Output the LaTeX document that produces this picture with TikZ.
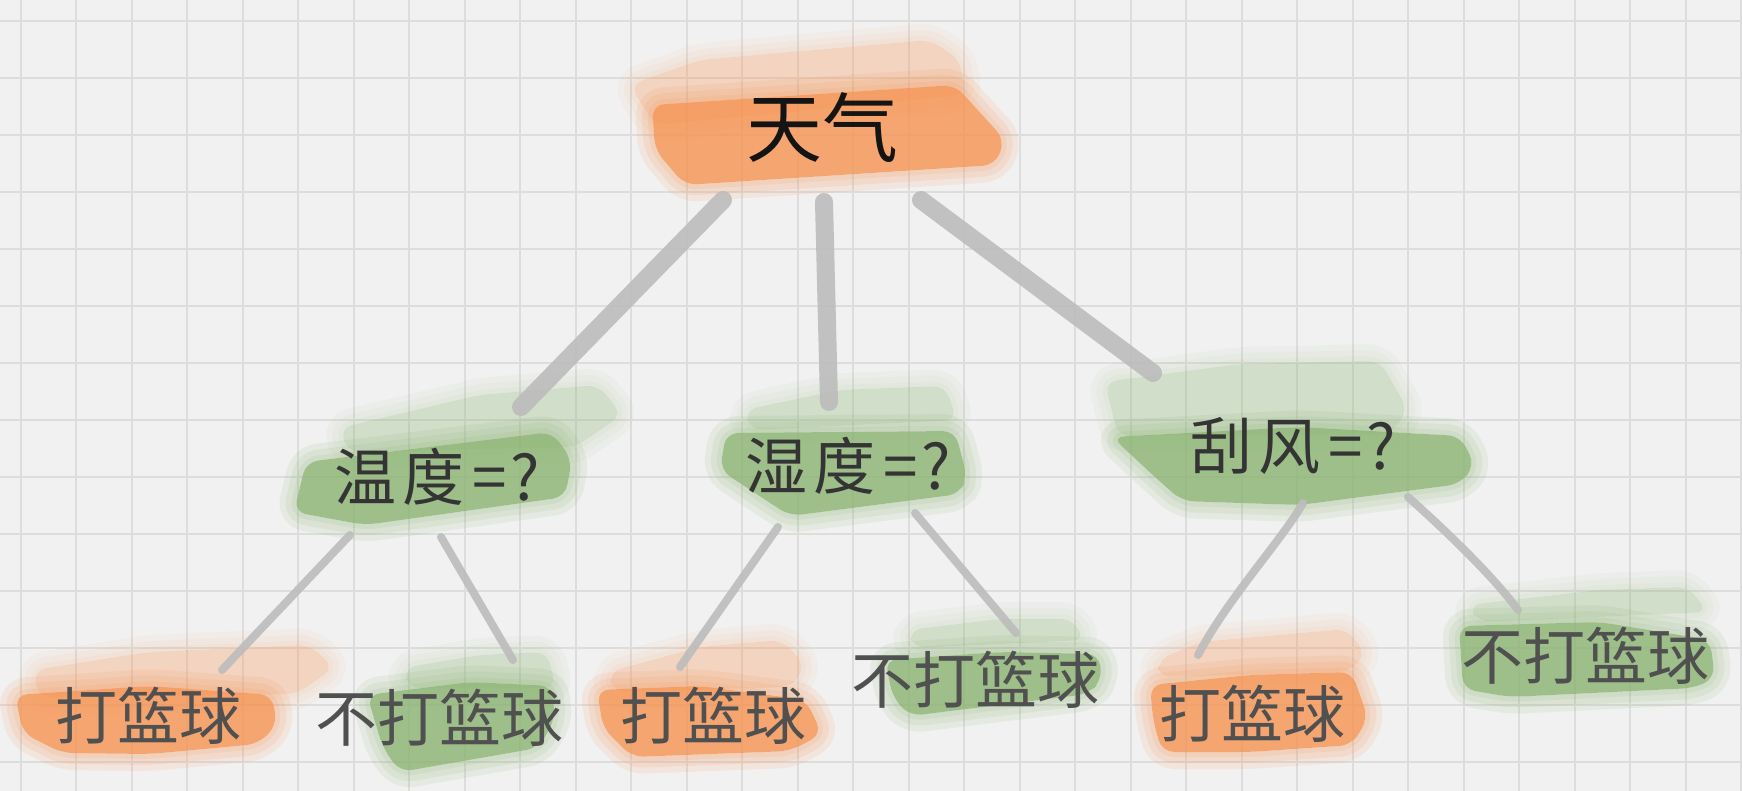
\documentclass[tikz,border=0pt]{standalone}
\usepackage{fontspec}
\newfontfamily\cjk{Noto Sans CJK SC}
\definecolor{bgc}{RGB}{241,241,241}
\definecolor{gridc}{RGB}{221,221,221}
\definecolor{org}{RGB}{246,146,80}
\definecolor{grn}{RGB}{138,179,113}
\definecolor{edgec}{RGB}{188,188,188}
\definecolor{midtxt}{RGB}{52,52,52}
\definecolor{leaftxt}{RGB}{80,80,80}
\pgfdeclarelayer{bglayer}
\pgfdeclarelayer{brushlayer}
\pgfdeclarelayer{edgelayer}
\pgfsetlayers{bglayer,brushlayer,edgelayer,main}
% #1 colour, #2 halo opacity, #3 fill opacity, #4 path
\newcommand{\bband}[4]{%
  \begin{scope}[even odd rule]
    \clip (-60,-60) rectangle (1800,860) [rounded corners=12pt] #4 -- cycle;
    \foreach \w in {34,22,10}
      \draw[#1, draw opacity=#2, line width=\w, line join=round, rounded corners=12pt] #4 -- cycle;
  \end{scope}
  \fill[#1, fill opacity=#3, rounded corners=12pt] #4 -- cycle;}
\tikzset{
  roott/.style={font={\cjk\fontsize{76pt}{76pt}\selectfont}, text=black!92, inner sep=0pt},
  midt/.style={font={\cjk\fontsize{62pt}{62pt}\selectfont}, text=midtxt, inner sep=0pt},
  leaft/.style={font={\cjk\fontsize{62pt}{62pt}\selectfont}, text=leaftxt, inner sep=0pt},
  thickstem/.style={draw=edgec, draw opacity=0.9, line width=18pt, line cap=round},
  thinstem/.style={draw=edgec, draw opacity=0.9, line width=8pt, line cap=round},
}
\begin{document}
\begin{tikzpicture}[x=1pt,y=-1pt]
\useasboundingbox (0,0) rectangle (1742,791);
\begin{pgfonlayer}{bglayer}
  \fill[bgc] (0,0) rectangle (1742,791);
  \foreach \i in {0,...,31} \draw[gridc, line width=1.8pt] ({20.7+55.5*\i},0) -- ({20.7+55.5*\i},791);
  \foreach \j in {0,...,13} \draw[gridc, line width=1.8pt] (0,{20.7+57*\j}) -- (1742,{20.7+57*\j});
\end{pgfonlayer}

% nodes
\node[roott] (root) at (822,128) {天气};
\node[midt] (wendu) at (437,477) {温\hspace{6pt}度\hspace{8pt}=\hspace{4pt}?};
\node[midt] (shidu) at (848,466) {湿\hspace{6pt}度\hspace{8pt}=\hspace{4pt}?};
\node[midt] (guafeng) at (1293,446) {刮\hspace{6pt}风\hspace{8pt}=\hspace{4pt}?};
\node[leaft] (l1) at (148,716) {打篮球};
\node[leaft] (l2) at (439,718) {不打篮球};
\node[leaft] (l3) at (713,716) {打篮球};
\node[leaft] (l4) at (975,680) {不打篮球};
\node[leaft] (l5) at (1252,714) {打篮球};
\node[leaft] (l6) at (1585,656) {不打篮球};

\begin{pgfonlayer}{brushlayer}
  % root
  \bband{org}{0.05}{0.3}{(630,85) -- (700,60) -- (930,40) -- (960,60) -- (965,95) -- (655,125)}
  \bband{org}{0.12}{0.8}{(652,105) -- (955,85) -- (1005,140) -- (995,165) -- (685,185) -- (655,150)}
  % wendu
  \bband{grn}{0.05}{0.3}{(340,428) -- (480,395) -- (598,385) -- (622,415) -- (575,447) -- (348,452)}
  \bband{grn}{0.12}{0.8}{(306,462) -- (552,432) -- (572,460) -- (565,497) -- (365,525) -- (294,512)}
  % shidu
  \bband{grn}{0.05}{0.3}{(745,410) -- (840,390) -- (945,386) -- (957,420) -- (750,430)}
  \bband{grn}{0.12}{0.8}{(726,433) -- (955,431) -- (967,476) -- (960,494) -- (790,516) -- (720,470)}
  % guafeng
  \bband{grn}{0.05}{0.3}{(1105,382) -- (1240,364) -- (1380,361) -- (1408,410) -- (1390,434) -- (1118,436)}
  \bband{grn}{0.12}{0.8}{(1112,437) -- (1300,427) -- (1460,436) -- (1475,465) -- (1460,484) -- (1300,505) -- (1182,501) -- (1156,478)}
  % leaves
  \bband{org}{0.05}{0.3}{(34,670) -- (150,652) -- (310,645) -- (334,668) -- (296,694) -- (38,697)}
  \bband{org}{0.12}{0.8}{(15,695) -- (150,686) -- (272,695) -- (277,725) -- (258,744) -- (150,754) -- (62,753) -- (23,733)}
  \bband{grn}{0.05}{0.3}{(404,668) -- (480,655) -- (547,652) -- (556,688) -- (408,688)}
  \bband{grn}{0.12}{0.8}{(367,695) -- (470,682) -- (552,686) -- (555,720) -- (538,748) -- (400,772) -- (383,748)}
  \bband{org}{0.05}{0.3}{(609,672) -- (700,647) -- (782,640) -- (805,665) -- (792,687) -- (613,692)}
  \bband{org}{0.12}{0.8}{(597,690) -- (700,686) -- (806,700) -- (822,734) -- (790,751) -- (632,757) -- (603,728)}
  \bband{grn}{0.05}{0.3}{(909,630) -- (1000,619) -- (1072,619) -- (1085,640) -- (913,648)}
  \bband{grn}{0.12}{0.8}{(885,660) -- (1000,652) -- (1099,654) -- (1102,680) -- (1088,694) -- (910,716) -- (893,698)}
  \bband{org}{0.05}{0.3}{(1158,660) -- (1200,642) -- (1347,629) -- (1366,655) -- (1348,672) -- (1158,677)}
  \bband{org}{0.12}{0.8}{(1150,685) -- (1250,675) -- (1352,672) -- (1368,718) -- (1352,745) -- (1250,752) -- (1162,752) -- (1153,720)}
  \bband{grn}{0.05}{0.3}{(1469,605) -- (1600,590) -- (1688,587) -- (1708,612) -- (1478,622)}
  \bband{grn}{0.12}{0.8}{(1459,626) -- (1600,622) -- (1710,640) -- (1715,678) -- (1694,688) -- (1510,697) -- (1463,689)}
\end{pgfonlayer}

\begin{pgfonlayer}{edgelayer}
  \draw[thickstem] ([shift={(-99,72)}]root.center) -- ([shift={(84,-70)}]wendu.center);
  \draw[thickstem] ([shift={(2,74)}]root.center) -- ([shift={(-19,-64)}]shidu.center);
  \draw[thickstem] ([shift={(99,72)}]root.center) -- ([shift={(-140,-73)}]guafeng.center);
  \draw[thinstem] ([shift={(-87,58)}]wendu.center) -- ([shift={(74,-46)}]l1.center);
  \draw[thinstem] ([shift={(4,60)}]wendu.center) -- ([shift={(74,-58)}]l2.center);
  \draw[thinstem] ([shift={(-70,61)}]shidu.center) -- ([shift={(-33,-49)}]l3.center);
  \draw[thinstem] ([shift={(67,47)}]shidu.center) -- ([shift={(41,-47)}]l4.center);
  \draw[thinstem] ([shift={(10,57)}]guafeng.center) .. controls (1282,540) and (1228,598) .. ([shift={(-54,-59)}]l5.center);
  \draw[thinstem] ([shift={(115,51)}]guafeng.center) .. controls (1437,523) and (1490,572) .. ([shift={(-67,-46)}]l6.center);
\end{pgfonlayer}
\end{tikzpicture}
\end{document}
